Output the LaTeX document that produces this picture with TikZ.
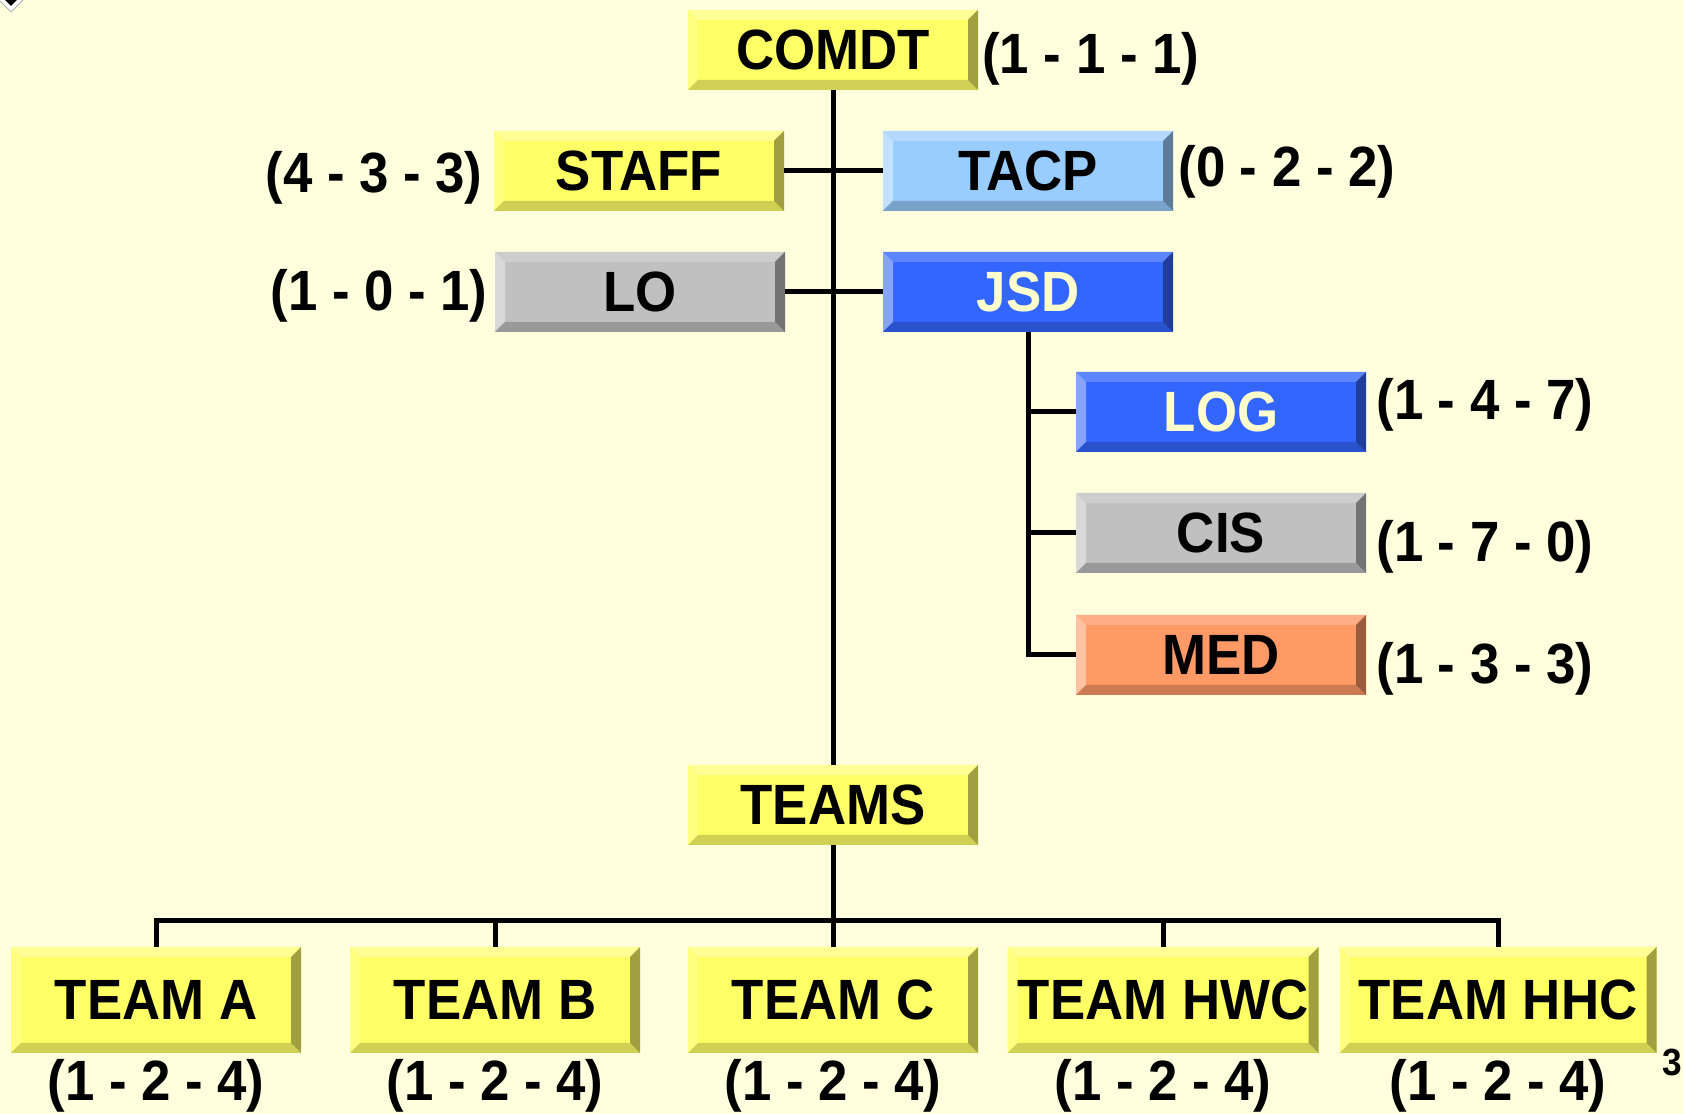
\documentclass[tikz,border=0pt]{standalone}
\usepackage{fontspec}
\setmainfont[FakeStretch=0.93]{Liberation Sans}
\usetikzlibrary{positioning}
%% colours
\definecolor{bgyellow}{RGB}{255,255,221}
\definecolor{yface}{RGB}{255,255,102}
\definecolor{ytop}{RGB}{255,255,150}
\definecolor{yleft}{RGB}{255,255,128}
\definecolor{ybot}{RGB}{208,208,84}
\definecolor{yright}{RGB}{160,160,64}
\definecolor{lbface}{RGB}{153,204,255}
\definecolor{lbtop}{RGB}{179,217,255}
\definecolor{lbleft}{RGB}{194,224,255}
\definecolor{lbbot}{RGB}{122,163,204}
\definecolor{lbright}{RGB}{92,122,153}
\definecolor{bface}{RGB}{51,102,255}
\definecolor{btop}{RGB}{92,133,255}
\definecolor{bleft}{RGB}{133,163,255}
\definecolor{bbot}{RGB}{41,82,204}
\definecolor{bright}{RGB}{31,61,153}
\definecolor{gface}{RGB}{192,192,192}
\definecolor{gtop}{RGB}{205,205,205}
\definecolor{gleft}{RGB}{217,217,217}
\definecolor{gbot}{RGB}{153,153,153}
\definecolor{gright}{RGB}{115,115,115}
\definecolor{oface}{RGB}{255,153,102}
\definecolor{otop}{RGB}{255,173,133}
\definecolor{oleft}{RGB}{255,194,163}
\definecolor{obot}{RGB}{204,122,82}
\definecolor{oright}{RGB}{153,92,61}
\definecolor{palefg}{RGB}{255,255,204}
\tikzset{
  bevel/.style n args={5}{fill=#1,path picture={
    \coordinate (bnw) at (path picture bounding box.north west);
    \coordinate (bne) at (path picture bounding box.north east);
    \coordinate (bsw) at (path picture bounding box.south west);
    \coordinate (bse) at (path picture bounding box.south east);
    \fill[#2] (bnw) -- (bne) -- ([shift={(-5bp,-5bp)}]bne) -- ([shift={(5bp,-5bp)}]bnw) -- cycle;
    \fill[#3] (bnw) -- ([shift={(5bp,-5bp)}]bnw) -- ([shift={(5bp,5bp)}]bsw) -- (bsw) -- cycle;
    \fill[#4] (bsw) -- (bse) -- ([shift={(-5bp,5bp)}]bse) -- ([shift={(5bp,5bp)}]bsw) -- cycle;
    \fill[#5] (bne) -- (bse) -- ([shift={(-5bp,5bp)}]bse) -- ([shift={(-5bp,-5bp)}]bne) -- cycle;
  }},
  unitbox/.style={inner sep=0pt,minimum width=145bp,minimum height=40bp,
    font=\fontsize{28.5}{31}\selectfont\bfseries},
  yellowbox/.style={unitbox,bevel={yface}{ytop}{yleft}{ybot}{yright}},
  lightbluebox/.style={unitbox,bevel={lbface}{lbtop}{lbleft}{lbbot}{lbright}},
  bluebox/.style={unitbox,text=palefg,bevel={bface}{btop}{bleft}{bbot}{bright}},
  greybox/.style={unitbox,bevel={gface}{gtop}{gleft}{gbot}{gright}},
  orangebox/.style={unitbox,bevel={oface}{otop}{oleft}{obot}{oright}},
  teambox/.style={yellowbox,minimum height=53bp,font=\fontsize{28.5}{32}\selectfont\bfseries},
  strength/.style={inner sep=0pt,font=\fontsize{28.5}{31}\selectfont\bfseries},
  link/.style={black,line width=2.5bp},
}
\begin{document}
\begin{tikzpicture}[line join=miter]
\useasboundingbox (0bp,0bp) rectangle (841.5bp,557bp);
\fill[bgyellow] (0bp,0bp) rectangle (841.5bp,557bp);
% corner mark
\filldraw[fill=white,draw=gray!60] (5.5bp,563bp) -- (11.5bp,557bp) -- (5.5bp,551bp) -- (-0.5bp,557bp) -- cycle;
\fill[black] (5.5bp,560bp) -- (8.5bp,557bp) -- (5.5bp,554bp) -- (2.5bp,557bp) -- cycle;
%%
\node (node_comdt) at (416.5bp,532bp) [yellowbox] {COMDT};
  \node (node_staff) at (319.5bp,471.5bp) [yellowbox] {STAFF};
  \node (node_tacp) at (514bp,471.5bp) [lightbluebox] {TACP};
  \node (node_lo) at (320bp,411bp) [greybox] {LO};
  \node (node_jsd) at (514bp,411bp) [bluebox] {JSD};
  \node (node_log) at (610.5bp,351bp) [bluebox] {LOG};
  \node (node_cis) at (610.5bp,290.5bp) [greybox] {CIS};
  \node (node_med) at (610.5bp,229.5bp) [orangebox] {MED};
  \node (node_teams) at (416.5bp,154.5bp) [yellowbox] {TEAMS};
%
  \node (node_teama) at (78bp,57bp) [teambox] {TEAM A};
  \node (node_teamb) at (247.5bp,57bp) [teambox] {TEAM B};
  \node (node_teamc) at (416.5bp,57bp) [teambox] {TEAM C};
  \node (node_teamhwc) at (581.5bp,57bp) [teambox,minimum width=155.5bp] {TEAM HWC};
  \node (node_teamhhc) at (749bp,57bp) [teambox,minimum width=158.5bp] {TEAM HHC};
%%
\node (lbl_comdt) at (491bp,527.5bp) [strength,anchor=west] {(1 - 1 - 1)};
  \node (lbl_staff) at (241.5bp,468bp) [strength,anchor=east] {(4 - 3 - 3)};
  \node (lbl_tacp) at (589bp,471bp) [strength,anchor=west] {(0 - 2 - 2)};
  \node (lbl_lo) at (244bp,409bp) [strength,anchor=east] {(1 - 0 - 1)};
  \node (lbl_log) at (688bp,354.5bp) [strength,anchor=west] {(1 - 4 - 7)};
  \node (lbl_cis) at (688bp,283.5bp) [strength,anchor=west] {(1 - 7 - 0)};
  \node (lbl_med) at (688bp,222.5bp) [strength,anchor=west] {(1 - 3 - 3)};
  \foreach \t in {teama,teamb,teamc,teamhwc,teamhhc}
    \node (lbl_\t) [strength,below=3bp of node_\t] {(1 - 2 - 4)};
  \node (lbl_page) at (841bp,26bp) [anchor=east,inner sep=0pt,font=\fontsize{19}{22}\selectfont\bfseries] {3};
%%
\draw [link] (node_comdt) -- (node_teams);
  \draw [link] (node_staff) -- (node_tacp);
  \draw [link] (node_lo) -- (node_jsd);
  \draw [link] (node_jsd.south) |- (node_med.west);
  \draw [link] (node_jsd.south |- node_log.west) -- (node_log.west);
  \draw [link] (node_jsd.south |- node_cis.west) -- (node_cis.west);
  \coordinate (bus) at (0bp,96.5bp);
  \foreach \t in {teama,teamb,teamc,teamhwc,teamhhc}
    \draw [link] (node_teams.south) -- (node_teams.south |- bus) -| (node_\t.north);
%
\end{tikzpicture}
\end{document}
